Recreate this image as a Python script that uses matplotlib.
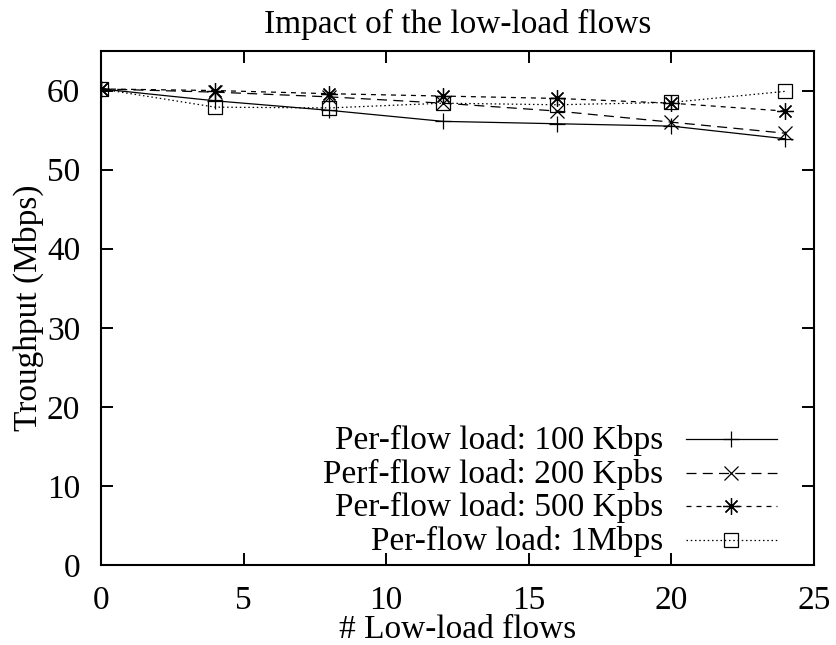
import matplotlib
matplotlib.use("Agg")
import matplotlib.pyplot as plt
from matplotlib.lines import Line2D

flows = [0, 4, 8, 12, 16, 20, 24]
tput_100k = [60.2, 58.7, 57.5, 56.1, 55.8, 55.5, 53.9]
tput_200k = [60.2, 59.8, 59.2, 58.4, 57.4, 56.0, 54.6]
tput_500k = [60.2, 60.0, 59.6, 59.3, 59.0, 58.4, 57.4]
tput_1m = [60.2, 57.9, 57.8, 58.4, 58.2, 58.5, 59.9]

labels = ["Per-flow load: 100 Kbps", "Perf-flow load: 200 Kpbs",
          "Per-flow load: 500 Kpbs", "Per-flow load: 1Mbps"]

plt.rcParams["font.family"] = ["Liberation Serif", "DejaVu Serif"]
FS = 24

fig = plt.figure(figsize=(8.37, 6.45), dpi=100)
ax = fig.add_axes([101 / 837, 80 / 645, 713 / 837, 514 / 645])

lw = 0.9
styles = [
    dict(ls="-", marker="+", ms=11, mew=lw),
    dict(ls=(0, (8, 5)), marker="x", ms=10, mew=lw),
    dict(ls=(0, (4, 4)), marker=(8, 2, 0), ms=12, mew=lw),
    dict(ls=(0, (1.2, 2.2)), marker="s", ms=10, mew=lw, mfc="none"),
]
series = [tput_100k, tput_200k, tput_500k, tput_1m]

for ys, st in zip(series, styles):
    ax.plot(flows, ys, color="black", lw=lw, **st)

# gnuplot-style key: right-aligned labels, sample line on the right
rows = [0.2451, 0.1790, 0.1148, 0.0486]
for lab, st, yy in zip(labels, styles, rows):
    ax.text(0.789, yy - 0.0185, lab, transform=ax.transAxes, ha="right",
            va="baseline", fontsize=FS)
    ax.add_line(Line2D([0.8205, 0.948], [yy, yy], transform=ax.transAxes,
                       color="black", lw=lw, ls=st["ls"]))
    mk = {k: v for k, v in st.items() if k != "ls"}
    ax.add_line(Line2D([0.8836], [yy], transform=ax.transAxes, color="black",
                       ls="none", **mk))

ax.set_xlim(0, 25)
ax.set_ylim(0, 65)
ax.set_xticks(range(0, 26, 5))
ax.set_yticks(range(0, 61, 10))
ax.tick_params(direction="in", length=8.5, width=1.4, top=True, right=True,
               labelsize=FS)
ax.tick_params(axis="x", pad=15)
ax.tick_params(axis="y", pad=15)
for s in ax.spines.values():
    s.set_linewidth(1.5)

ax.set_title("Impact of the low-load flows", fontsize=FS, pad=13)
ax.set_xlabel("# Low-load flows", fontsize=FS)
ax.xaxis.set_label_coords(0.5, -0.097)
ax.set_ylabel("Troughput (Mbps)", fontsize=FS)
ax.yaxis.set_label_coords(-0.080, 0.5)

fig.savefig("out.png", dpi=100)
